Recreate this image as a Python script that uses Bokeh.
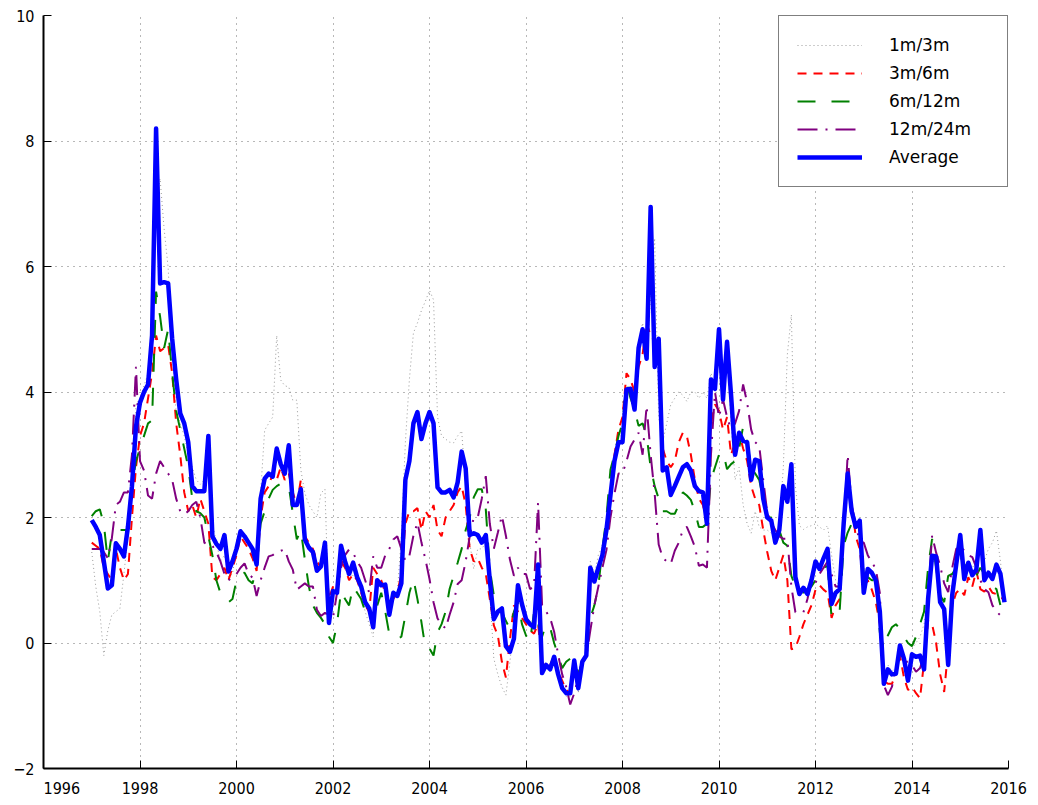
import numpy as np
from bokeh.plotting import figure
from bokeh.models import FixedTicker, Legend, LegendItem, Range1d
from bokeh.embed import file_html
from bokeh.resources import INLINE

# Monthly series, January 1997 .. December 2015 (one row per year)
avg_1997_2015 = [
    1.96, 1.85, 1.72, 1.30, 0.87, 0.92, 1.59, 1.50, 1.38, 1.85, 2.50, 3.45,
    3.83, 4.00, 4.12, 4.90, 8.20, 5.73, 5.75, 5.73, 4.85, 4.20, 3.66, 3.50,
    3.20, 2.50, 2.42, 2.42, 2.42, 3.30, 1.70, 1.58, 1.50, 1.72, 1.14, 1.30,
    1.50, 1.78, 1.70, 1.60, 1.50, 1.25, 2.30, 2.62, 2.70, 2.65, 3.10, 2.85,
    2.70, 3.15, 2.20, 2.20, 2.45, 1.65, 1.52, 1.45, 1.15, 1.22, 1.60, 0.32,
    0.83, 0.80, 1.55, 1.30, 1.10, 1.28, 1.05, 0.90, 0.65, 0.55, 0.25, 1.00,
    0.92, 0.93, 0.45, 0.80, 0.75, 0.95, 2.60, 2.90, 3.50, 3.68, 3.25, 3.50,
    3.68, 3.50, 2.48, 2.40, 2.40, 2.44, 2.32, 2.56, 3.05, 2.78, 1.72, 1.75,
    1.72, 1.60, 1.72, 1.00, 0.38, 0.50, 0.55, -0.05, -0.14, 0.07, 0.92, 0.62,
    0.38, 0.30, 0.25, 1.25, -0.48, -0.35, -0.42, -0.22, -0.50, -0.72, -0.80, -0.80,
    -0.28, -0.72, -0.30, -0.20, 1.20, 0.98, 1.20, 1.40, 1.80, 2.35, 2.90, 3.20,
    3.20, 4.04, 4.05, 3.72, 4.70, 5.00, 4.53, 6.95, 4.40, 4.85, 2.75, 2.80,
    2.36, 2.50, 2.65, 2.80, 2.85, 2.75, 2.50, 2.42, 2.40, 1.90, 4.20, 4.05,
    5.00, 3.88, 4.80, 3.95, 3.00, 3.35, 3.22, 3.20, 2.60, 2.92, 2.90, 2.30,
    2.00, 1.95, 1.60, 1.80, 2.50, 2.25, 2.85, 1.05, 0.78, 0.88, 0.78, 1.00,
    1.30, 1.18, 1.35, 1.50, 0.62, 0.80, 0.86, 1.90, 2.70, 2.10, 1.85, 1.95,
    0.80, 1.18, 1.12, 1.00, 0.50, -0.65, -0.42, -0.50, -0.49, -0.04, -0.25, -0.60,
    -0.18, -0.22, -0.20, -0.42, 0.70, 1.39, 1.38, 0.65, 0.54, -0.35, 0.76, 1.25,
    1.72, 1.02, 1.28, 1.08, 1.17, 1.80, 1.00, 1.12, 1.02, 1.25, 1.10, 0.65,
]

m1_3 = [
    1.45, 0.90, 0.50, -0.20, 0.20, 0.45, 0.50, 0.55, 1.10, 1.70, 2.60, 3.80,
    3.90, 4.10, 4.30, 5.20, 7.00, 7.40, 6.60, 5.98, 4.70, 3.66, 3.50, 3.30,
    3.00, 2.80, 2.60, 2.53, 2.60, 2.90, 1.90, 1.60, 1.30, 1.40, 1.05, 1.10,
    1.50, 1.70, 1.60, 1.55, 1.40, 1.30, 2.40, 3.39, 3.50, 3.60, 4.90, 4.19,
    4.10, 4.08, 3.87, 3.87, 2.76, 2.39, 2.20, 2.10, 2.00, 2.39, 2.45, 0.38,
    0.90, 0.80, 1.50, 1.20, 1.00, 1.10, 1.00, 0.80, 0.50, 0.30, 0.10, 0.90,
    0.90, 0.90, 0.40, 0.70, 0.80, 1.71, 3.20, 4.20, 4.94, 5.10, 5.30, 5.45,
    5.62, 5.47, 3.60, 3.30, 3.25, 3.20, 3.19, 3.30, 3.38, 2.50, 1.60, 1.18,
    1.50, 1.50, 1.60, 0.80, -0.25, -0.50, -0.70, -0.83, -0.30, 0.30, 0.80, 0.50,
    0.40, 0.30, 0.20, 0.90, -0.50, -0.40, -0.45, -0.30, -0.55, -0.75, -0.85, -0.85,
    -0.30, -0.80, -0.35, -0.25, 1.30, 1.10, 1.40, 1.55, 1.90, 2.40, 3.00, 3.30,
    3.30, 4.00, 4.10, 3.80, 4.80, 5.10, 4.60, 5.50, 6.45, 3.60, 3.20, 3.50,
    3.80, 3.90, 4.00, 3.95, 3.85, 4.00, 4.00, 3.90, 4.00, 3.90, 4.30, 4.10,
    4.90, 3.90, 4.60, 3.50, 2.60, 2.80, 2.20, 1.90, 1.75, 2.10, 1.85, 1.80,
    1.80, 1.75, 1.60, 1.90, 2.80, 4.60, 5.23, 2.50, 1.87, 1.81, 1.85, 1.87,
    1.90, 1.85, 1.80, 1.87, 1.40, 1.00, 0.90, 1.90, 2.60, 2.00, 1.80, 1.90,
    0.90, 1.20, 1.10, 1.00, 0.60, -0.50, -0.35, -0.45, -0.40, 0.00, -0.20, -0.50,
    -0.10, 0.00, 0.10, 0.30, 0.80, 1.30, 1.30, 0.70, 0.50, 0.00, 0.80, 1.20,
    1.60, 1.10, 1.30, 1.20, 1.30, 1.70, 1.30, 1.50, 1.60, 1.79, 1.30, 0.70,
]

m3_6 = [
    1.60, 1.55, 1.50, 1.20, 1.10, 1.00, 1.50, 1.20, 1.00, 1.10, 2.00, 2.80,
    3.30, 3.50, 3.90, 4.30, 4.90, 4.65, 4.70, 4.75, 4.30, 3.50, 3.00, 2.40,
    2.10, 2.20, 2.00, 2.30, 2.10, 1.90, 1.05, 1.00, 1.10, 1.20, 1.00, 1.20,
    1.40, 1.70, 1.60, 1.50, 1.35, 1.15, 2.00, 2.40, 2.50, 2.70, 2.60, 2.80,
    2.60, 2.70, 2.40, 2.20, 2.60, 1.70, 1.60, 1.50, 1.30, 1.20, 1.50, 0.70,
    0.90, 0.80, 1.30, 1.20, 1.00, 1.10, 1.00, 0.80, 0.60, 0.50, 1.20, 1.10,
    1.00, 0.80, 0.60, 0.70, 0.80, 1.10, 1.90, 2.10, 2.10, 2.15, 1.80, 2.10,
    2.00, 2.20, 1.80, 1.70, 2.00, 2.10, 2.20, 2.40, 2.50, 2.20, 1.50, 1.30,
    1.35, 1.20, 1.10, 0.70, 0.28, 0.12, -0.30, -0.55, 0.05, 0.60, 0.50, 0.40,
    0.30, 0.20, 0.15, 0.30, -0.30, -0.40, -0.35, -0.20, -0.45, -0.60, -0.75, -0.80,
    -0.40, -0.60, -0.30, -0.20, 0.90, 1.00, 1.20, 1.40, 1.80, 2.40, 3.00, 3.40,
    3.60, 4.30, 4.20, 4.00, 4.40, 4.60, 5.10, 4.90, 4.80, 4.60, 3.10, 2.90,
    2.80, 2.90, 3.20, 3.35, 3.30, 3.00, 2.60, 2.30, 2.20, 1.90, 3.50, 3.80,
    3.70, 3.40, 3.60, 3.00, 3.20, 3.35, 3.10, 2.90, 2.50, 2.30, 2.20, 1.80,
    1.45, 1.15, 1.00, 1.20, 1.40, 1.00, -0.10, -0.08, 0.10, 0.30, 0.45, 0.60,
    0.85, 0.92, 0.85, 0.80, 0.40, 0.60, 0.70, 1.80, 2.50, 2.20, 1.70, 1.50,
    0.90, 1.00, 0.85, 0.65, 0.30, -0.60, -0.65, -0.65, -0.50, -0.20, -0.55, -0.75,
    -0.70, -0.80, -0.88, -0.30, 0.35, 0.30, 0.00, -0.50, -0.78, -0.10, 0.60, 0.80,
    0.86, 0.76, 1.05, 0.90, 1.15, 0.86, 0.82, 0.90, 0.80, 0.78, 0.72, 0.70,
]

m6_12 = [
    2.02, 2.10, 2.13, 1.90, 1.30, 1.75, 1.80, 1.80, 1.80, 1.80, 2.50, 2.90,
    3.10, 3.30, 3.50, 3.55, 5.60, 5.20, 4.70, 5.00, 4.30, 3.70, 3.40, 3.10,
    2.80, 2.30, 2.10, 2.07, 2.00, 1.70, 1.40, 1.00, 0.80, 0.70, 0.65, 0.70,
    1.00, 1.10, 1.12, 1.00, 0.95, 1.20, 1.90, 2.10, 2.30, 2.44, 2.50, 2.54,
    2.50, 2.50, 2.07, 1.65, 1.80, 1.33, 0.90, 0.60, 0.48, 0.40, 0.30, 0.10,
    0.00, 0.30, 0.83, 0.70, 0.60, 0.90, 0.80, 0.70, 0.50, 0.60, 0.30, 0.60,
    0.80, 0.50, 0.14, 0.10, 0.06, 0.10, 0.44, 0.80, 1.02, 0.70, 0.33, -0.09,
    -0.09, -0.20, 0.17, 0.30, 0.50, 0.86, 1.07, 1.28, 1.50, 1.80, 2.00, 2.32,
    2.45, 2.45, 2.13, 1.18, 0.76, 0.70, 0.50, 0.35, 0.23, 0.50, 0.65, 0.30,
    0.12, 0.02, 0.50, 0.30, 0.10, 0.30, 0.25, 0.00, -0.20, -0.40, -0.30, -0.25,
    -0.24, -0.50, -0.30, 0.00, 0.40, 0.60, 0.90, 1.50, 2.00, 2.76, 3.00, 3.30,
    3.50, 4.15, 3.90, 3.72, 3.46, 3.50, 3.30, 2.80, 2.50, 2.30, 2.10, 2.10,
    2.06, 2.06, 2.20, 2.40, 2.35, 2.28, 2.10, 1.85, 1.85, 1.90, 2.60, 2.80,
    3.00, 3.05, 2.77, 2.85, 2.90, 3.10, 3.45, 3.20, 2.80, 2.70, 2.60, 2.30,
    2.00, 2.00, 1.90, 1.80, 1.60, 1.55, 1.07, 0.90, 0.85, 0.80, 0.85, 0.90,
    1.00, 1.10, 1.20, 1.23, 0.40, 0.45, 0.50, 1.55, 1.76, 1.90, 1.85, 1.80,
    1.10, 1.05, 1.00, 1.00, 0.17, -0.09, 0.12, 0.25, 0.30, 0.22, 0.10, 0.00,
    -0.05, 0.10, 0.30, 0.50, 1.20, 1.66, 1.20, 0.76, 0.65, 1.07, 1.10, 1.20,
    1.40, 1.20, 1.29, 1.15, 1.07, 1.20, 1.10, 1.00, 0.90, 0.86, 0.60, 0.50,
]

m12_24 = [
    1.50, 1.50, 1.50, 1.45, 1.35, 1.67, 2.20, 2.25, 2.40, 2.40, 3.00, 4.40,
    2.90, 2.75, 2.35, 2.30, 2.70, 2.90, 2.80, 2.70, 2.60, 2.30, 2.10, 2.05,
    2.10, 2.20, 2.25, 2.00, 1.60, 1.55, 1.55, 1.45, 1.30, 1.10, 1.00, 1.05,
    1.10, 1.20, 1.27, 1.10, 1.04, 0.75, 1.00, 1.20, 1.38, 1.40, 1.45, 1.47,
    1.49, 1.30, 1.17, 0.85, 0.90, 0.95, 0.90, 0.90, 0.53, 0.43, 0.48, 0.45,
    0.40, 0.80, 1.20, 1.40, 1.49, 1.44, 1.30, 1.20, 1.00, 0.80, 1.38, 1.20,
    1.20, 1.40, 1.50, 1.65, 1.70, 1.50, 1.31, 1.39, 1.71, 1.92, 1.60, 1.33,
    1.02, 0.65, 0.39, 0.30, 0.23, 0.45, 0.65, 0.94, 1.00, 1.30, 1.70, 2.00,
    2.00, 2.30, 2.66, 1.90, 1.50, 1.76, 2.03, 1.71, 1.33, 1.07, 1.20, 1.10,
    1.10, 0.86, 0.90, 2.24, 0.60, 0.50, 0.40, 0.18, -0.19, -0.50, -0.70, -0.98,
    -0.80, -0.55, -0.28, -0.22, 0.20, 0.60, 0.90, 1.20, 1.48, 2.00, 2.38, 2.70,
    2.70, 2.90, 3.13, 3.24, 3.35, 3.00, 3.78, 3.00, 2.38, 1.57, 1.36, 1.30,
    1.26, 1.47, 1.60, 1.80, 1.85, 1.70, 1.53, 1.23, 1.25, 1.20, 3.00, 4.00,
    3.60, 3.88, 3.60, 3.40, 3.50, 3.70, 4.12, 3.83, 3.40, 3.20, 3.14, 2.60,
    2.08, 1.92, 1.80, 1.70, 1.66, 1.66, 0.90, 0.49, 0.49, 0.49, 0.70, 1.00,
    0.96, 1.10, 1.20, 1.30, 1.10, 0.90, 0.90, 1.80, 3.00, 2.19, 1.90, 1.60,
    1.60, 1.40, 1.29, 1.18, 0.80, -0.67, -0.83, -0.70, -0.40, -0.14, -0.30, -0.30,
    -0.35, -0.46, -0.40, -0.20, 0.80, 1.71, 1.44, 1.23, 0.95, 0.81, 1.20, 1.50,
    1.55, 1.47, 1.40, 1.37, 1.20, 1.00, 0.86, 0.81, 0.60, 0.50, 0.44, 0.36,
]

x_ticks = [1996, 1998, 2000, 2002, 2004, 2006, 2008, 2010, 2012, 2014, 2016]
y_ticks = [-2, 0, 2, 4, 6, 8, 10]
series_names = ["1m/3m", "3m/6m", "6m/12m", "12m/24m", "Average"]


def months(vals):
    return 1997 + np.arange(len(vals)) / 12.0


TICK_FONT = "DejaVu Sans Condensed"

p = figure(width=1030, height=800, output_backend="svg", toolbar_location=None,
           x_range=Range1d(1996, 2016), y_range=Range1d(-2, 10),
           min_border_left=43, min_border_right=22, min_border_top=15,
           min_border_bottom=30)
p.outline_line_color = None
p.background_fill_color = "white"

r1 = p.line(months(m1_3), m1_3, line_color="#9a9a9a", line_width=1, line_dash="1 3")
r2 = p.line(months(m3_6), m3_6, line_color="#ff0000", line_width=2, line_dash="9 7")
r3 = p.line(months(m6_12), m6_12, line_color="#008000", line_width=2, line_dash="18 16")
r4 = p.line(months(m12_24), m12_24, line_color="#800080", line_width=2, line_dash="20 8 2 8")
r5 = p.line(months(avg_1997_2015), avg_1997_2015, line_color="#0000ff", line_width=4.5,
            line_join="round")

for ax in (p.xaxis[0], p.yaxis[0]):
    ax.axis_line_color = "black"
    ax.axis_line_width = 2
    ax.major_tick_in = 8
    ax.major_tick_out = 0
    ax.major_tick_line_color = "black"
    ax.minor_tick_line_color = None
    ax.major_label_text_font = TICK_FONT
    ax.major_label_text_font_size = "16px"
    ax.major_label_text_color = "black"

p.xaxis.ticker = FixedTicker(ticks=x_ticks)
p.yaxis.ticker = FixedTicker(ticks=y_ticks)
p.xaxis.major_label_standoff = 10
p.yaxis.major_label_standoff = 9
# first year label sits to the right of its tick in the original
p.xaxis.major_label_overrides = {x_ticks[0]: "\u00a0" * 8 + str(x_ticks[0])}

for g in (p.xgrid[0], p.ygrid[0]):
    g.grid_line_color = "#707070"
    g.grid_line_dash = "1 5"
    g.grid_line_width = 1
p.xgrid.ticker = FixedTicker(ticks=x_ticks)
p.ygrid.ticker = FixedTicker(ticks=y_ticks)

legend = Legend(items=[LegendItem(label=n, renderers=[r]) for n, r in
                       zip(series_names, [r1, r2, r3, r4, r5])],
                location="top_right", margin=0, padding=18, spacing=6,
                label_height=22, glyph_height=20, glyph_width=65,
                label_standoff=27, label_width=100,
                border_line_color="black", border_line_width=1,
                background_fill_color="white", background_fill_alpha=1,
                label_text_font="DejaVu Sans", label_text_font_size="17px",
                label_text_color="black")
p.add_layout(legend)

open("out.html", "w").write(file_html(p, INLINE))
